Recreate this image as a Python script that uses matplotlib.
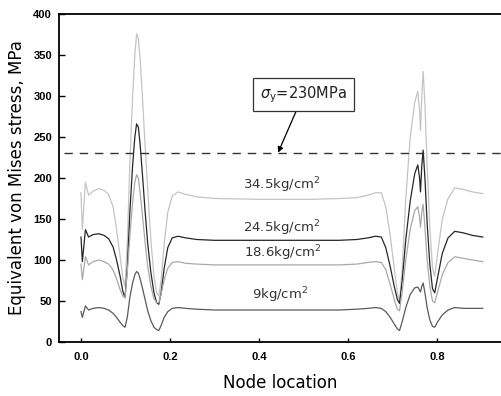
import matplotlib
matplotlib.use("Agg")
import matplotlib.pyplot as plt

# Node location (shared x samples)
x = [0.000, 0.003, 0.010, 0.017, 0.027, 0.040, 0.052, 0.062, 0.072, 0.080,
     0.088, 0.094, 0.099, 0.104, 0.110, 0.116, 0.121, 0.125, 0.129, 0.133,
     0.138, 0.144, 0.150, 0.157, 0.164, 0.170, 0.175, 0.180, 0.187, 0.195,
     0.205, 0.218, 0.235, 0.260, 0.300, 0.400, 0.520, 0.580, 0.620, 0.645,
     0.662, 0.675, 0.685, 0.695, 0.704, 0.711, 0.716, 0.722, 0.730, 0.740,
     0.750, 0.757, 0.761, 0.763, 0.766, 0.769, 0.773, 0.778, 0.784, 0.790,
     0.795, 0.802, 0.812, 0.825, 0.840, 0.860, 0.880, 0.903]

p345 = [182, 137, 195, 179, 184, 187, 185, 180, 165, 137,
        104, 78, 68, 120, 220, 300, 350, 376, 370, 345,
        300, 240, 185, 125, 80, 60, 56, 75, 120, 158,
        178, 183, 180, 177, 175, 174, 174, 175, 176, 179,
        182, 182, 165, 130, 90, 60, 50, 90, 175, 250,
        292, 306, 282, 258, 300, 330, 290, 215, 140, 90,
        80, 110, 150, 175, 188, 186, 183, 181]

p245 = [128, 98, 137, 128, 131, 132, 130, 126, 116, 100,
        80, 62, 54, 90, 160, 215, 250, 266, 262, 240,
        205, 160, 120, 85, 60, 48, 46, 60, 90, 115,
        127, 129, 127, 125, 124, 124, 124, 124, 125, 127,
        129, 128, 115, 92, 68, 52, 47, 75, 125, 172,
        205, 216, 200, 183, 215, 234, 200, 145, 95, 65,
        60, 80, 108, 127, 135, 133, 130, 128]

p186 = [95, 76, 104, 94, 98, 100, 98, 95, 88, 77,
        64, 56, 54, 85, 130, 170, 195, 204, 200, 182,
        155, 122, 92, 68, 53, 48, 48, 58, 76, 90,
        97, 98, 96, 95, 94, 94, 94, 94, 95, 97,
        98, 97, 88, 70, 52, 40, 38, 62, 100, 138,
        160, 165, 152, 140, 158, 168, 140, 100, 68, 50,
        48, 62, 82, 97, 104, 102, 100, 98]

p9 = [37, 30, 44, 39, 41, 42, 41, 39, 35, 30,
      24, 20, 18, 30, 55, 72, 82, 86, 84, 77,
      66, 52, 38, 26, 18, 15, 14, 20, 30, 37,
      41, 42, 41, 40, 39, 39, 39, 39, 40, 41,
      42, 41, 37, 30, 22, 16, 14, 25, 42, 58,
      66, 67, 63, 61, 68, 72, 60, 42, 27, 19,
      18, 25, 33, 39, 42, 41, 41, 41]

labels = ["34.5kg/cm$^2$", "24.5kg/cm$^2$", "18.6kg/cm$^2$", "9kg/cm$^2$"]
label_pos = [(0.451, 191), (0.451, 139), (0.453, 108), (0.447, 57)]
yield_stress = 230
xticks = [0.0, 0.2, 0.4, 0.6, 0.8]
yticks = [0, 50, 100, 150, 200, 250, 300, 350, 400]

fig = plt.figure(figsize=(5.01, 3.96), dpi=100)
ax = fig.add_axes([0.1178, 0.1364, 0.8822, 0.8282])

series = [p345, p245, p186, p9]
colors = ["#c4c4c4", "#262626", "#a9a9a9", "#5a5a5a"]
for s, c in zip(series, colors):
    ax.plot(x, s, color=c, lw=0.9)

ax.axhline(yield_stress, color="#333333", lw=1.0, dashes=(6, 5), xmin=0.012)

for lab, (lx, ly) in zip(labels, label_pos):
    ax.text(lx, ly, lab, ha="center", va="center", fontsize=9.5,
            color="#333333", family="DejaVu Sans")

ax.annotate(r"$\mathit{\sigma}_{\mathrm{y}}$=230MPa", xy=(0.443, 231),
            xytext=(0.5, 302), ha="center", va="center", fontsize=10.5,
            color="#222222",
            bbox=dict(boxstyle="square,pad=0.45", fc="white", ec="#333333", lw=0.9),
            arrowprops=dict(arrowstyle="-|>", color="black", lw=0.9,
                            mutation_scale=8, shrinkA=0, shrinkB=0))

ax.set_xlim(-0.0494, 0.944)
ax.set_ylim(0, 400)
ax.set_xticks(xticks)
ax.set_xticklabels([f"{t:.1f}" for t in xticks])
ax.set_yticks(yticks)
ax.tick_params(direction="in", length=4, width=1, labelsize=8)
ax.tick_params(axis="x", length=3, pad=7)
ax.tick_params(axis="y", pad=5)
for lab in ax.get_xticklabels() + ax.get_yticklabels():
    lab.set_fontweight("bold")
    lab.set_family("Liberation Sans")

for side in ["left", "bottom", "top"]:
    ax.spines[side].set_linewidth(1.3)
ax.spines["right"].set_visible(False)

ax.set_xlabel("Node location", fontsize=12, labelpad=9)
ax.set_ylabel("Equivalent von Mises stress, MPa", fontsize=12, labelpad=5)

fig.savefig("out.png", dpi=100)
